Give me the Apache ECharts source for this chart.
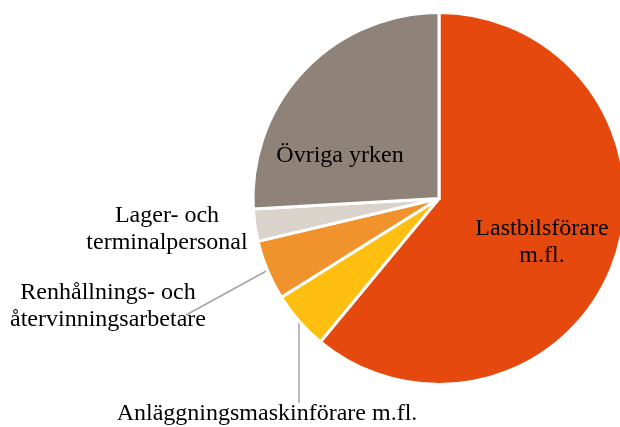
<!DOCTYPE html>
<html>
<head>
<meta charset="utf-8">
<script src="https://cdn.jsdelivr.net/npm/echarts@6/dist/echarts.min.js"></script>
<style>
html,body{margin:0;padding:0;background:#fff;}
#chart{width:620px;height:427px;}
</style>
</head>
<body>
<div id="chart"></div>
<script>
var categories = ["Lastbilsförare\nm.fl.", "Anläggningsmaskinförare m.fl.", "Renhållnings- och\nåtervinningsarbetare", "Lager- och\nterminalpersonal", "Övriga yrken"];
var values = [61.0, 5.1, 5.2, 2.8, 25.9];
var colors = ["#E6490D", "#FFBF10", "#F0932C", "#D9D3CC", "#8E8279"];

// label placement (style only)
var labelPos = [
  {x: 542, y: 242, line: null},
  {x: 267, y: 414, line: [[299, 322], [299, 364], [299, 403]]},
  {x: 108, y: 306, line: [[270, 269], [228, 292], [186, 315]]},
  {x: 167, y: 229, line: null},
  {x: 340, y: 156, line: null}
];

var chart = echarts.init(document.getElementById('chart'));
var data = categories.map(function (c, i) {
  return {name: c, value: values[i], itemStyle: {color: colors[i]}};
});
chart.setOption({
  animation: false,
  backgroundColor: '#fff',
  series: [{
    type: 'pie',
    center: [439, 198.5],
    radius: 186,
    startAngle: 90,
    clockwise: true,
    avoidLabelOverlap: false,
    itemStyle: {borderColor: '#fff', borderWidth: 3},
    label: {
      show: true,
      position: 'outside',
      formatter: '{b}',
      color: '#000',
      fontFamily: '"Liberation Serif", "Times New Roman", serif',
      fontSize: 24,
      lineHeight: 27,
      align: 'center'
    },
    labelLine: {show: true, lineStyle: {color: '#A6A6A6', width: 1.5}},
    labelLayout: function (params) {
      var p = labelPos[params.dataIndex];
      var r = {x: p.x, y: p.y, align: 'center', verticalAlign: 'middle'};
      if (p.line) { r.labelLinePoints = p.line; }
      else { r.labelLinePoints = [[0,0],[0,0],[0,0]]; }
      return r;
    },
    data: data
  }]
});
</script>
</body>
</html>
